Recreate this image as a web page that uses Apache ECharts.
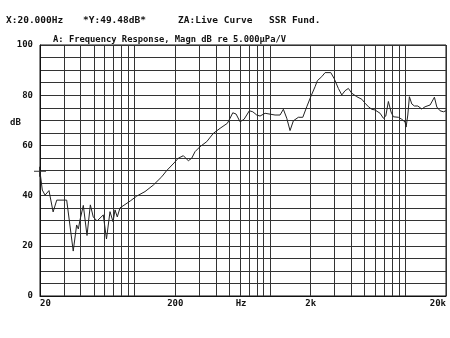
<!DOCTYPE html>
<html><head><meta charset="utf-8">
<script src="https://cdn.jsdelivr.net/npm/echarts@6/dist/echarts.min.js"></script>
<style>html,body{margin:0;padding:0;background:#fff}#c{width:450px;height:338px}</style>
</head><body><div id="c"></div>
<script>
const freqHz = [20,20.8,21.8,23.3,25.0,26.6,31.5,35.2,37.3,38.4,39.5,41.8,44.5,47.1,49.5,52.8,58.7,62.0,65.8,69.3,71.7,74.5,78.0,86.4,93.6,103.7,119.4,137.6,158.7,172.8,195.6,210.4,229.2,240,249.6,264.4,279.6,304.6,341.4,381.8,428,484.6,507.4,531.4,562,601.6,644,704.8,746.6,799.2,845.4,920.6,1091,1188,1257,1332,1408,1490,1622,1749,1872,2003,2156,2242,2416,2556,2816,2978,3204,3396,3592,3798,4026,4382,4772,5050,5342,5658,5984,6516,6892,7178,7504,7856,8170,8896,9426,9972,10144,10442,10730,11178,11682,12378,13244,14010,15260,16420,17102,18090,19136,20000];
const magnDb = [49.5,42.2,40.2,42.0,33.5,38.2,38.2,17.9,28.3,26.7,30.3,36.1,24.1,36.3,31.5,29.9,32.3,22.7,33.6,29.6,34.3,31.5,35.1,36.7,38.0,39.8,41.6,44.2,47.5,50.0,53.0,54.9,55.9,54.8,53.9,54.9,57.5,59.5,61.5,64.8,66.8,68.8,70.8,73.0,72.5,69.4,70.4,73.8,73.4,72.1,71.7,72.8,72.1,72.1,74.4,70.8,65.9,69.8,71.2,71.2,75.4,79.4,83.4,85.8,87.4,89.0,89.0,86.7,82.7,80.1,81.8,82.7,80.8,79.4,78.4,76.8,75.4,74.4,74.1,72.8,70.8,71.7,77.5,73.3,71.4,71.2,70.4,69.3,67.3,72.1,79.4,76.5,75.7,75.7,74.5,75.4,76.1,79.2,75.3,73.8,73.4,73.8];
const xGridValues = [20,30,40,50,60,70,80,90,100,200,300,400,500,600,700,800,900,1000,2000,3000,4000,5000,6000,7000,8000,9000,10000,20000];
const xLabelValues = [20,200,612,2000,20000];
const xLabelText = {20:'20',200:'200',612:'Hz',2000:'2k',20000:'20k'};
const yLabelValues = [0,20,40,60,80,100];
const cursorFreq = 20, cursorDb = 49.48;
const headerTexts = ['X:20.000Hz','*Y:49.48dB*','ZA:Live Curve','SSR Fund.'];
const subTitle = 'A: Frequency Response, Magn dB re 5.000\u00b5Pa/V';
const yName = 'dB';

const FONT = 'DejaVu Sans Mono';
const chart = echarts.init(document.getElementById('c'), null, {renderer:'canvas'});
const data = freqHz.map((f,i)=>[f, magnDb[i]]);
const hx = [6, 83, 178, 269];
chart.setOption({
  animation:false,
  backgroundColor:'#fff',
  grid:{left:40,right:4,top:45,bottom:42,show:true,borderColor:'#111',borderWidth:1,containLabel:false},
  graphic:[
    ...headerTexts.map((t,i)=>({type:'text',left:hx[i],top:16,style:{text:t,font:'bold 9.5px '+FONT,fill:'#111'}})),
    {type:'text',left:53,top:35,style:{text:subTitle,font:'bold 8.8px '+FONT,fill:'#111'}},
    {type:'text',left:10,top:118,style:{text:yName,font:'bold 9px '+FONT,fill:'#111'}}
  ],
  xAxis:{type:'log',logBase:10,min:20,max:20000,
    axisLine:{show:true,lineStyle:{color:'#111'}},
    axisTick:{show:false,customValues:xGridValues},
    splitLine:{show:true,lineStyle:{color:'#333',width:1}},
    axisLabel:{customValues:xLabelValues,formatter:v=>xLabelText[Math.round(v)]||'',
      color:'#111',margin:3,alignMinLabel:'left',alignMaxLabel:'right',
      fontFamily:FONT,fontWeight:'bold',fontSize:9}
  },
  yAxis:{type:'value',min:0,max:100,interval:5,
    axisLine:{show:true,lineStyle:{color:'#111'}},
    axisTick:{show:false},
    splitLine:{show:true,lineStyle:{color:'#333',width:1}},
    axisLabel:{formatter:v=>yLabelValues.includes(v)?String(v):'',color:'#111',
      fontFamily:FONT,fontWeight:'bold',fontSize:9,margin:7}
  },
  series:[{type:'line',data:data,symbol:'none',smooth:false,
    lineStyle:{color:'#222',width:1},
    markPoint:{silent:true,symbol:'path://M0,4h12v1h-12z M5,0h1v10h-1z',symbolSize:[12,10],
      itemStyle:{color:'#333'},label:{show:false},
      data:[{coord:[cursorFreq,cursorDb]}]}
  }]
});
</script></body></html>
